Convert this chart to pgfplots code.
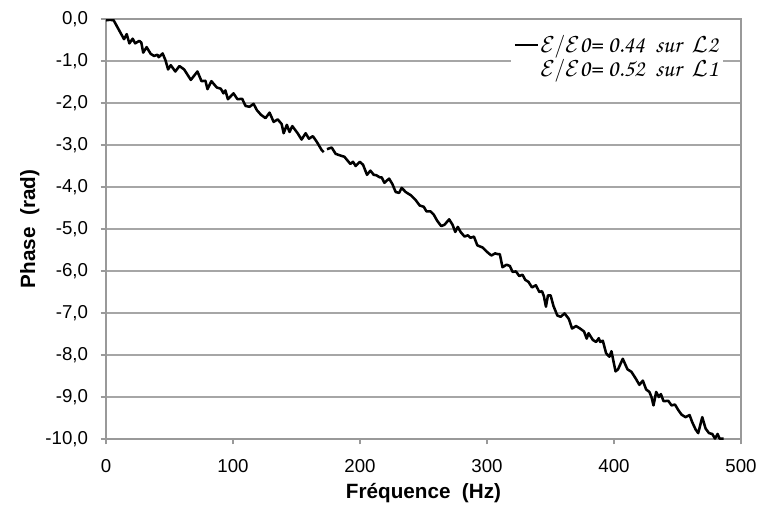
\documentclass[border=0pt]{standalone}
\usepackage{fontspec}
\setmainfont{Liberation Sans}
\newfontfamily\chorusfont{TeX Gyre Chorus}
\usepackage{pgfplots}
\pgfplotsset{compat=1.18}
\begin{document}
\begin{tikzpicture}
\begin{axis}[
  scale only axis,
  width=476.25pt, height=315pt,
  xmin=0, xmax=500, ymin=-10, ymax=0,
  xtick={0,100,200,300,400,500},
  ytick={-10,-9,-8,-7,-6,-5,-4,-3,-2,-1,0},
  xtick pos=left, ytick pos=left,
  tick align=outside, major tick length=4pt,
  axis line style={black!40, line width=0.8pt},
  tick style={black!40, line width=0.8pt},
  ymajorgrids, grid style={black!35, line width=0.9pt},
  /pgf/number format/assume math mode=true,
  tick label style={font=\fontsize{14}{16}\selectfont},
  yticklabel style={xshift=-6pt, /pgf/number format/.cd, fixed, fixed zerofill, precision=1, use comma},
  xticklabel style={yshift=-8pt, /pgf/number format/.cd, fixed, precision=0},
  xlabel={\bfseries Fréquence\ \ (Hz)},
  ylabel={\bfseries Phase\ \ (rad)},
  label style={font=\fontsize{15.5}{18}\selectfont},
  xlabel style={at={(axis description cs:0.5,-0.129)}, anchor=center},
  ylabel style={at={(axis description cs:-0.12,0.5)}, anchor=center},
  legend style={at={(0.972,0.972)}, anchor=north east, draw=none, fill=white,
    font=\chorusfont\fontsize{18}{19}\selectfont, inner sep=2pt,
    row sep=0pt,
    nodes={inner sep=1.5pt}},
  legend cell align=left,
  clip=true,
]
\addplot[black, line width=1.9pt, line join=round,
  legend image code/.code={\draw[black, line width=1.4pt] (0pt,0pt) -- (17pt,0pt);}]
 coordinates {
(0,-0.03) (3,-0.02) (6,-0.03) (10,-0.25) (14.2,-0.48) (16.3,-0.36) (18.4,-0.58) (21,-0.47)
(23,-0.58) (26.2,-0.52) (27.8,-0.56) (29.3,-0.80) (32,-0.67) (35.2,-0.83) (37.9,-0.88)
(40.5,-0.85) (41.5,-0.91) (44.6,-0.82) (46.8,-0.98) (48.9,-1.20) (51,-1.10) (54.6,-1.25)
(57.8,-1.12) (61.5,-1.20) (66.8,-1.45) (72,-1.25) (75.2,-1.48) (78.3,-1.47) (79.9,-1.67)
(83,-1.48) (87.2,-1.63) (90.4,-1.66) (92.5,-1.77) (94,-1.70) (96,-1.91) (100.4,-1.77)
(103.5,-1.91) (107.2,-1.90) (109.9,-2.07) (113,-2.09) (116.2,-2.02) (118.8,-2.17)
(122,-2.28) (125.6,-2.36) (128.8,-2.23) (132,-2.45) (135.2,-2.39) (138.3,-2.50)
(139.9,-2.72) (142.4,-2.52) (144.5,-2.69) (146.7,-2.55) (150.9,-2.72) (154,-2.87)
(157.2,-2.72) (159.8,-2.85) (162.9,-2.79) (166.1,-2.93) (169.8,-3.12) (171.4,-3.17)
};
\addlegendentry{$\mathcal{E}/\mathcal{E}$0= 0.44 \ sur \ $\mathcal{L}$2}
\addplot[black, line width=1.9pt, line join=round, forget plot]
 coordinates {
(174,-3.10) (177.7,-3.06) (180.8,-3.21) (184.5,-3.25) (187.7,-3.28) (192.4,-3.45)
(194.5,-3.40) (196.6,-3.50) (199.8,-3.40) (202.4,-3.47) (205.5,-3.71) (208.2,-3.61)
(210.8,-3.71) (212.9,-3.72) (215.5,-3.77) (217.1,-3.77) (219.2,-3.90) (222.9,-3.80)
(225.5,-3.93) (228.1,-4.12) (230.8,-4.14) (232.8,-4.02) (236,-4.12) (240.2,-4.20)
(243.8,-4.31) (247,-4.44) (250.2,-4.47) (252.3,-4.58) (255.5,-4.58) (258.1,-4.66)
(260.7,-4.80) (263.9,-4.93) (266.5,-4.90) (270.2,-4.77) (272.9,-4.90) (275,-5.07)
(277,-4.95) (279.2,-5.07) (282.3,-5.18) (284.9,-5.15) (287.1,-5.21) (289.7,-5.18)
(292.4,-5.39) (296.5,-5.44) (300.2,-5.55) (303.4,-5.63) (306.5,-5.58) (308.6,-5.60)
(310.1,-5.60) (312.2,-5.91) (315.4,-5.85) (318,-5.88) (320.1,-6.02) (322.8,-6.01)
(325.4,-6.12) (328,-6.09) (330.1,-6.21) (332.7,-6.26) (335.4,-6.39) (338.5,-6.34)
(341.2,-6.50) (343.3,-6.48) (344.8,-6.60) (346.4,-6.85) (348,-6.58) (350.1,-6.58)
(352.3,-6.83) (355.4,-7.06) (358,-7.09) (361.1,-7.01) (364.4,-7.14) (367,-7.37)
(370.1,-7.31) (373.3,-7.37) (376.4,-7.44) (378.5,-7.61) (380,-7.48) (383.3,-7.64)
(385.9,-7.69) (388,-7.60) (389.1,-7.69) (391.2,-7.66) (393.8,-7.96) (396.4,-8.04)
(398,-7.91) (401.2,-8.39) (403.2,-8.34) (406.9,-8.09) (410.6,-8.34) (413.7,-8.40)
(416.9,-8.55) (420,-8.71) (422.7,-8.61) (425.3,-8.82) (427.9,-8.88) (429.5,-9.00)
(431.1,-9.20) (433.2,-8.88) (435.3,-9.00) (436.9,-8.93) (439,-9.10) (442.7,-9.09)
(445.3,-9.20) (448,-9.18) (450.6,-9.31) (453.2,-9.42) (456.3,-9.48) (459.5,-9.43)
(461.6,-9.60) (464.2,-9.77) (466.3,-9.86) (469.5,-9.48) (472.1,-9.75) (474.8,-9.86)
(477.4,-9.88) (479.5,-9.99) (481.6,-9.88) (483.1,-9.99) (486.3,-9.99)
};
\addlegendimage{empty legend}
\addlegendentry{$\mathcal{E}/\mathcal{E}$0= 0.52 \ sur \ $\mathcal{L}$1}
\end{axis}
\pgfresetboundingbox
\path[use as bounding box] (-79.5pt,-54.75pt) rectangle (490.5pt,329.25pt);
\end{tikzpicture}
\end{document}
